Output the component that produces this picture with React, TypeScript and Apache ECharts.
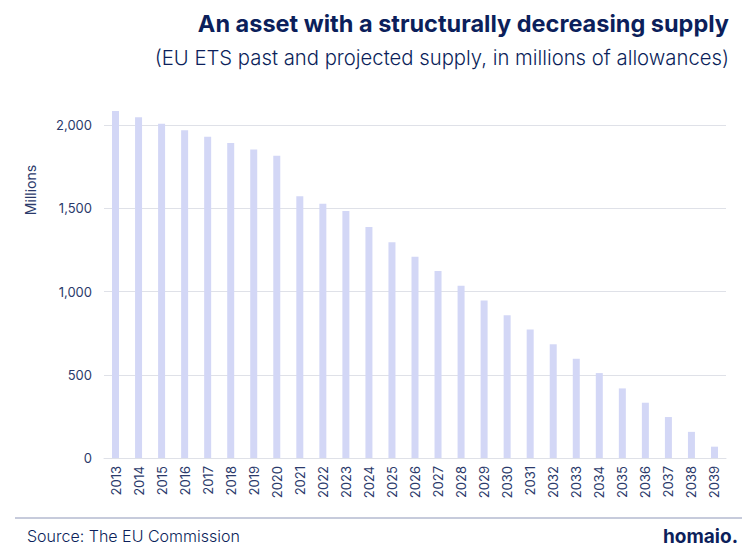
import React, { useEffect, useRef } from "react";
import * as echarts from "echarts";

// EU ETS supply (millions of allowances), historical and projected
const years = [
  "2013", "2014", "2015", "2016", "2017", "2018", "2019", "2020", "2021",
  "2022", "2023", "2024", "2025", "2026", "2027", "2028", "2029", "2030",
  "2031", "2032", "2033", "2034", "2035", "2036", "2037", "2038", "2039",
];
const supply = [
  2084, 2046, 2008, 1968, 1930, 1892, 1853, 1815, 1572,
  1527, 1484, 1387, 1296, 1208, 1123, 1035, 946, 858,
  772, 683, 596, 510, 418, 332, 246, 157, 68,
];
const yTicks = { min: 0, max: 2000, interval: 500 };

const title = "An asset with a structurally decreasing supply";
const subtitle = "(EU ETS past and projected supply, in millions of allowances)";
const yName = "Millions";
const source = "Source: The EU Commission";
const brand = "homaio.";

const NAVY = "#0c1f5b";
const LABEL = "#2b3a6b";
const FONT = "Inter, 'Noto Sans', sans-serif";

export default function App() {
  const ref = useRef<HTMLDivElement>(null);

  useEffect(() => {
    if (!ref.current) return;
    const chart = echarts.init(ref.current, undefined, { renderer: "svg" });
    chart.setOption({
      animation: false,
      backgroundColor: "#ffffff",
      textStyle: { fontFamily: FONT },
      grid: { left: 104, right: 24, top: 125, bottom: 97 },
      xAxis: {
        type: "category",
        data: years,
        axisLine: { show: true, lineStyle: { color: "#dfe1e8", width: 1 } },
        axisTick: { show: false },
        axisLabel: {
          rotate: 90,
          margin: 8,
          color: LABEL,
          fontSize: 13,
          fontFamily: FONT,
        },
      },
      yAxis: {
        type: "value",
        min: yTicks.min,
        max: yTicks.max,
        interval: yTicks.interval,
        axisLine: { show: false },
        axisTick: { show: false },
        splitLine: { lineStyle: { color: "#dfe1e8", width: 1 } },
        axisLabel: {
          margin: 12,
          color: LABEL,
          fontSize: 13,
          fontFamily: FONT,
          formatter: (v: number) => v.toLocaleString("en-US"),
        },
      },
      series: [
        {
          type: "bar",
          data: supply,
          barWidth: 7,
          clip: false,
          itemStyle: { color: "#d3d7f6" },
        },
      ],
      graphic: [
        {
          type: "text",
          right: 21,
          top: 11,
          style: {
            text: title,
            fontSize: 23.5,
            fontWeight: "bold",
            fill: NAVY,
            fontFamily: FONT,
          },
        },
        {
          type: "text",
          right: 21,
          top: 47,
          style: {
            text: subtitle,
            fontSize: 20.3,
            fontWeight: 300,
            fill: NAVY,
            fontFamily: FONT,
          },
        },
        {
          type: "text",
          x: 30,
          y: 190,
          rotation: Math.PI / 2,
          style: {
            text: yName,
            fontSize: 14,
            fill: LABEL,
            fontFamily: FONT,
            align: "center",
            verticalAlign: "middle",
          },
        },
        {
          type: "line",
          shape: { x1: 15, y1: 518, x2: 742, y2: 518 },
          style: { stroke: "#8e97b8", lineWidth: 1 },
        },
        {
          type: "text",
          left: 27,
          top: 528,
          style: {
            text: source,
            fontSize: 16,
            fontWeight: 300,
            fill: NAVY,
            fontFamily: FONT,
          },
        },
        {
          type: "text",
          right: 12,
          top: 527,
          style: {
            text: brand,
            fontSize: 19,
            fontWeight: "bold",
            fill: NAVY,
            fontFamily: FONT,
          },
        },
      ],
    });
    return () => chart.dispose();
  }, []);

  return (
    <div
      ref={ref}
      style={{ width: 750, height: 555, position: "absolute", left: 0, top: 0 }}
    />
  );
}
